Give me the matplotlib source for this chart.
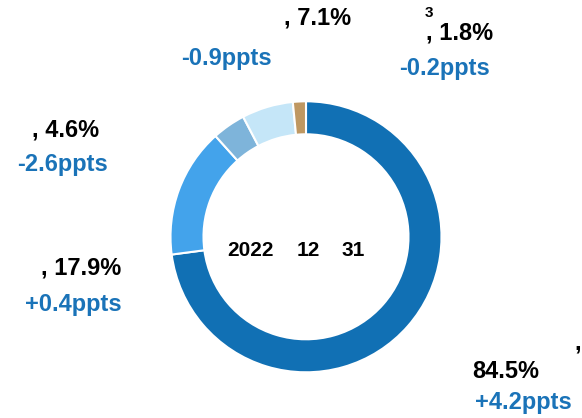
import matplotlib
matplotlib.use("Agg")
import matplotlib.pyplot as plt

# Data
segments = ["A", "B", "C", "D", "E"]
shares = [84.5, 17.9, 4.6, 7.1, 1.8]
share_labels = ["84.5%", ", 17.9%", ", 4.6%", ", 7.1%", ", 1.8%"]
change_labels = ["+4.2ppts", "+0.4ppts", "-2.6ppts", "-0.9ppts", "-0.2ppts"]
colors = ["#1170B4", "#43A3EB", "#7EB4DA", "#C5E6F8", "#BF9862"]
center_parts = ["2022", "12", "31"]

W, H = 582, 418
fig = plt.figure(figsize=(W / 100, H / 100), dpi=100)
ax = fig.add_axes([0, 0, 1, 1])
ax.set_xlim(0, W)
ax.set_ylim(0, H)
ax.set_aspect("equal")
ax.axis("off")

cx, cy, R = 306, H - 236.8, 135.5
ax.pie(shares, colors=colors, startangle=90, counterclock=False,
       center=(cx, cy), radius=R, frame=True,
       wedgeprops=dict(width=33, edgecolor="white", linewidth=1.5))
ax.set_xlim(0, W)
ax.set_ylim(0, H)
ax.axis("off")

font = "Liberation Sans"
black = "#000000"
blue = "#1A73B8"

def put(x, y, s, color, size, ha="center"):
    ax.text(x, H - y, s, color=color, fontsize=size, fontweight="bold",
            family=font, ha=ha, va="center")

# share labels (pixel positions)
pos_share = [(505.5, 372), (81.5, 268), (65.5, 130), (317.5, 18), (460, 33)]
pos_change = [(523.5, 402), (73, 305), (62, 164), (226, 58), (444, 68)]
for (x, y), s in zip(pos_share, share_labels):
    put(x, y, s, black, 17)
for (x, y), s in zip(pos_change, change_labels):
    put(x, y, s, blue, 17)

put(578, 343, ",", black, 17)
put(429, 13, "3", black, 11)

for (x, s) in zip([251, 308.5, 353.5], center_parts):
    put(x, 250, s, black, 15)

fig.savefig("out.png", dpi=100)
